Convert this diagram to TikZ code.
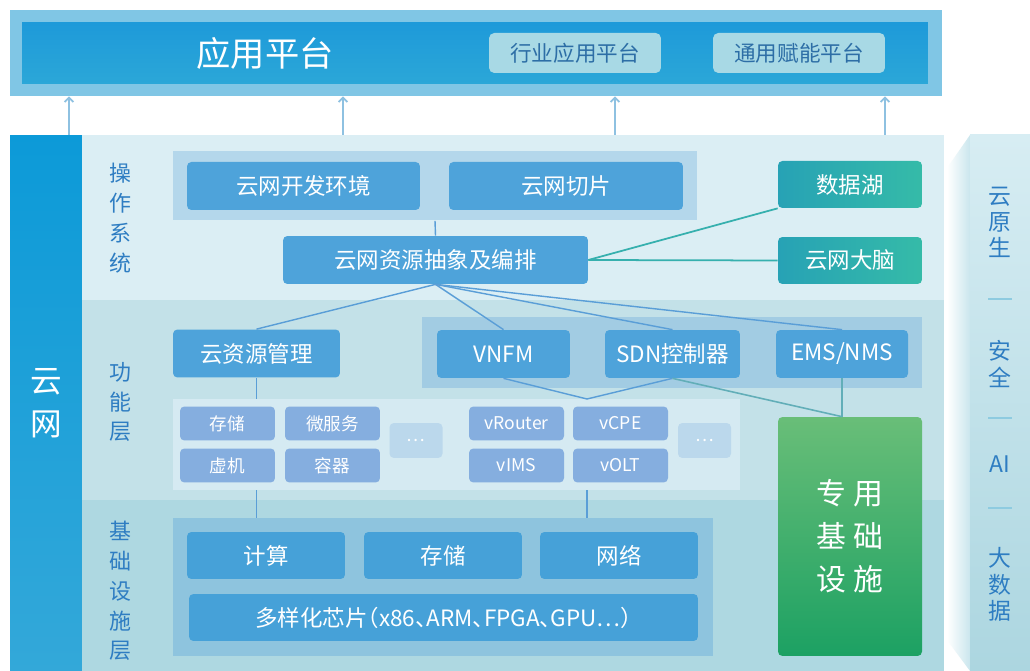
\documentclass[tikz,border=0pt]{standalone}
\usepackage{fontspec}
\setmainfont{Noto Sans CJK SC}
\usetikzlibrary{arrows.meta}

\definecolor{topouter}{HTML}{80C6E5}
\definecolor{topin1}{HTML}{1E9AD9}
\definecolor{topin2}{HTML}{2BA7D8}
\definecolor{topsub}{HTML}{A8D9E5}
\definecolor{topsubtext}{HTML}{2D6EA6}
\definecolor{uparr}{HTML}{8EC1E1}
\definecolor{net1}{HTML}{0C9AD8}
\definecolor{net2}{HTML}{33A8D9}
\definecolor{oslayer}{HTML}{DBEEF4}
\definecolor{fnlayer}{HTML}{C3E1E8}
\definecolor{inlayer}{HTML}{AED8E1}
\definecolor{osgrp}{HTML}{B4D7EB}
\definecolor{boxblue}{HTML}{4EA3DA}
\definecolor{fngrp}{HTML}{A2CCE3}
\definecolor{smallgrp}{HTML}{D5EAF2}
\definecolor{smallbox}{HTML}{85AEDF}
\definecolor{dotbox}{HTML}{BBD8EC}
\definecolor{ingrp}{HTML}{8EC4DE}
\definecolor{inbox}{HTML}{46A1D8}
\definecolor{teal1}{HTML}{27A2B5}
\definecolor{teal2}{HTML}{35BBA8}
\definecolor{green1}{HTML}{69BE78}
\definecolor{green2}{HTML}{1CA163}
\definecolor{rc1}{HTML}{D7EDF3}
\definecolor{rc2}{HTML}{ACD6E0}
\definecolor{lbl}{HTML}{2E7DC2}
\definecolor{linkc}{HTML}{5A9ED7}
\definecolor{tlinkc}{HTML}{36B0AE}
\definecolor{glinkc}{HTML}{62AEB8}
\definecolor{sepc}{HTML}{8ECBE0}

\tikzset{
  blk/.style={rounded corners=2.5pt, inner sep=0pt, text=white, font=\fontsize{12.8}{14}\selectfont},
  bluebox/.style={blk, fill=boxblue, minimum height=0.96cm},
  infrabox/.style={blk, fill=inbox, minimum height=0.94cm},
  smallbx/.style={blk, fill=smallbox, minimum width=1.9cm, minimum height=0.68cm, font=\fontsize{10}{12}\selectfont},
  dotbx/.style={blk, fill=dotbox, minimum width=1.06cm, minimum height=0.7cm, font=\fontsize{10}{12}\selectfont},
  tealbox/.style={blk, left color=teal1, right color=teal2, minimum width=2.88cm, minimum height=0.94cm},
  subbox/.style={blk, fill=topsub, text=topsubtext, rounded corners=3pt, minimum width=3.44cm, minimum height=0.8cm, font=\fontsize{12.3}{14}\selectfont},
  grp/.style={inner sep=0pt},
  layerlbl/.style={text=lbl, align=center, font=\fontsize{12.5}{17}\selectfont},
  sidelbl/.style={text=lbl, align=center, font=\fontsize{13}{15}\selectfont},
  uparrow/.style={uparr, line width=1pt, -{Straight Barb[length=2.5pt,width=5pt]}},
  lnk/.style={linkc, line width=0.8pt},
  tlnk/.style={tlinkc, line width=1pt},
  glnk/.style={glinkc, line width=0.9pt}
}

\begin{document}
\begin{tikzpicture}[x=0.02cm, y=-0.02cm]
  \useasboundingbox (0,0) rectangle (1030,671);
  \fill[white] (0,0) rectangle (1030,671);

  % application platform
  \node[grp, fill=topouter, minimum width=18.64cm, minimum height=1.72cm] (app) at (476,53) {};
  \node[grp, top color=topin1, bottom color=topin2, minimum width=18.12cm, minimum height=1.22cm] (appin) at (475,53.5) {};
  \node[text=white, font=\fontsize{19.5}{20}\selectfont] (apptitle) at (265,53) {应用平台};
  \node[subbox] (ind) at (575,53) {行业应用平台};
  \node[subbox] (gen) at (799,53) {通用赋能平台};

  % layers
  \fill[oslayer] (82,135) rectangle (944,300);
  \fill[fnlayer] (82,300) rectangle (944,500);
  \fill[inlayer] (82,500) rectangle (944,671);
  \node[grp, top color=net1, bottom color=net2, minimum width=1.44cm, minimum height=10.72cm, text=white, align=center, font=\fontsize{18}{24.4}\selectfont] (net) at (46,403) {云\\网};

  % right column
  \shade[left color=white, right color=rc1!70!rc2] (947,168) -- (970,135) -- (970,671) -- (947,640) -- cycle;
  \shade[top color=rc1, bottom color=rc2] (970,135) rectangle (1030,671);
  \foreach \y in {299,418,508}
    \draw[sepc, line width=1pt] (988,\y) -- (1012,\y);
  \node[sidelbl] (native) at (1000,222.5) {云\\原\\生};
  \node[sidelbl] (safe) at (1000,364) {安\\全};
  \node[sidelbl] (ai) at (1000,464) {AI};
  \node[sidelbl] (bigdata) at (1000,584.5) {大\\数\\据};

  \node[layerlbl] (oslbl) at (120,218) {操\\作\\系\\统};
  \node[layerlbl] (fnlbl) at (120,402) {功\\能\\层};
  \node[layerlbl] (inlbl) at (120,591) {基\\础\\设\\施\\层};

  % operating system
  \node[grp, fill=osgrp, minimum width=10.48cm, minimum height=1.4cm] (osg) at (435,185.5) {};
  \node[bluebox, minimum width=4.66cm] (devenv) at (303.5,186) {云网开发环境};
  \node[bluebox, minimum width=4.68cm] (slice) at (566,186) {云网切片};
  \node[bluebox, minimum width=6.1cm] (res) at (435.5,260) {云网资源抽象及编排};
  \node[tealbox] (lake) at (850,184.5) {数据湖};
  \node[tealbox] (brain) at (850,260.5) {云网大脑};

  % function layer
  \node[bluebox, minimum width=3.34cm] (cloudmgr) at (256.5,353.5) {云资源管理};
  \node[grp, fill=fngrp, minimum width=10cm, minimum height=1.42cm] (fng) at (672,352.5) {};
  \node[bluebox, minimum width=2.66cm] (vnfm) at (503.5,354) {VNFM};
  \node[bluebox, minimum width=2.7cm] (sdn) at (672.5,354) {SDN控制器};
  \node[bluebox, minimum width=2.64cm] (ems) at (842,354) {EMS/NMS};
  \node[grp, fill=smallgrp, minimum width=11.34cm, minimum height=1.82cm] (smallg) at (456.5,444.5) {};
  \foreach \name/\x/\y/\txt in {st/227.5/423.5/存储, ms/332.5/423.5/微服务, vm/227.5/465.5/虚机, ct/332.5/465.5/容器, vr/516.5/423.5/vRouter, vc/620.5/423.5/vCPE, vi/516.5/465.5/vIMS, vo/620.5/465.5/vOLT}
    \node[smallbx] (\name) at (\x,\y) {\txt};
  \node[dotbx] (dots1) at (416,440.5) {…};
  \node[dotbx] (dots2) at (704.5,440.5) {…};
  \node[blk, top color=green1, bottom color=green2, minimum width=2.88cm, minimum height=4.78cm, align=center, font=\fontsize{17}{24.4}\selectfont] (special) at (850,536.5) {专\hspace{4pt}用\\基\hspace{4pt}础\\设\hspace{4pt}施};

  % infrastructure
  \node[grp, fill=ingrp, minimum width=10.8cm, minimum height=2.76cm] (ing) at (443,587) {};
  \node[infrabox, minimum width=3.16cm] (compute) at (266,555.5) {计算};
  \node[infrabox, minimum width=3.16cm] (storage) at (443,555.5) {存储};
  \node[infrabox, minimum width=3.16cm] (network) at (619,555.5) {网络};
  \node[infrabox, minimum width=10.18cm] (chips) at (443.5,617.5) {\addfontfeature{RawFeature=+halt}多样化芯片（x86、ARM、FPGA、GPU…）};

  % connectors
  \foreach \n/\x in {1/69,2/343,3/615,4/885} {
    \coordinate (up\n) at (\x,135);
    \draw[uparrow] (up\n) -- (up\n |- app.south);
  }
  \coordinate (j1) at (587,399);
  \foreach \src/\dst in {osg.south/res.north, res.south/cloudmgr.north, res.south/vnfm.north, res.south/sdn.north, res.south/ems.north, vnfm.south/j1, sdn.south/j1}
    \draw[lnk] (\src) -- (\dst);
  \draw[lnk] (cloudmgr.south) -- (cloudmgr.south |- smallg.north);
  \draw[lnk] (cloudmgr.south |- smallg.south) -- (cloudmgr.south |- ing.north);
  \draw[lnk] (j1 |- smallg.south) -- (j1 |- ing.north);
  \draw[tlnk] (res.east) -- (lake.south west);
  \draw[tlnk] (res.east) -- (brain.west);
  \draw[glnk] (sdn.south) -- (ems.south |- special.north);
  \draw[glnk] (ems.south) -- (ems.south |- special.north);
\end{tikzpicture}
\end{document}
